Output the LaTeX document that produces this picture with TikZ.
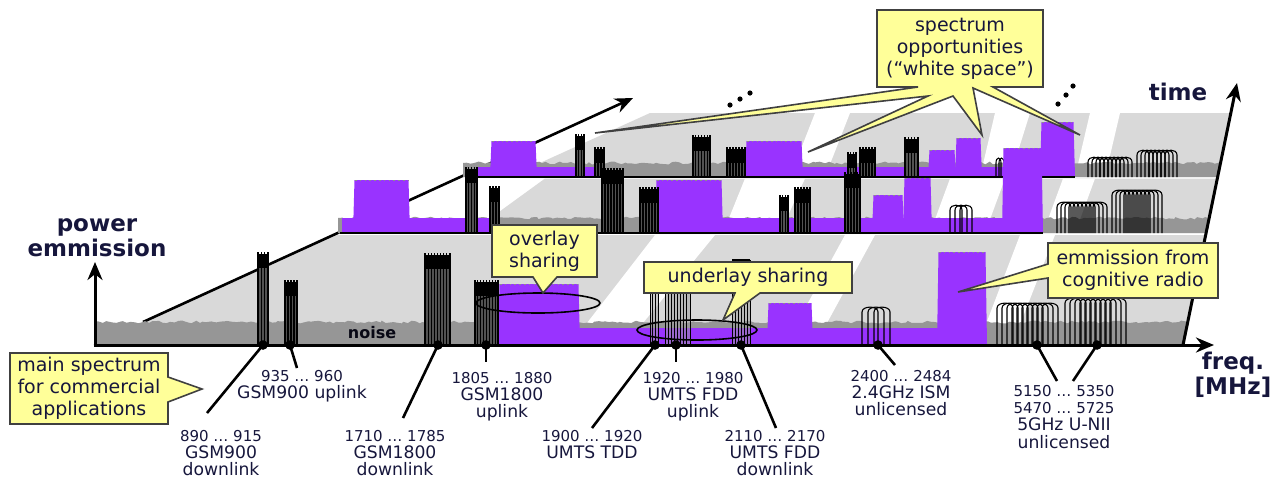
\documentclass[tikz,border=0pt]{standalone}
\usepackage{fontspec}
\setmainfont{DejaVu Sans}
\usetikzlibrary{decorations.pathmorphing,arrows.meta}
\definecolor{purp}{RGB}{153,51,255}
\definecolor{lgray}{RGB}{217,217,217}
\definecolor{ngray}{RGB}{150,150,150}
\definecolor{yel}{RGB}{255,255,153}
\definecolor{txt}{RGB}{22,22,60}

\newcommand{\nzband}[5]{\fill[ngray] (#1,#4) -- (#1,#4-#5) decorate[decoration={random steps,segment length=1.8pt,amplitude=0.7pt}]{-- (#3,#4-#5)} -- (#2,#4) -- cycle;}
\newcommand{\pfloor}[4]{\fill[purp] (#1,#3) rectangle (#2,#3-#4);}
\newcommand{\pblock}[4]{\fill[purp] (#1,#4) -- (#1+1.5,#3) -- (#2-1.5,#3) -- (#2,#4) -- cycle;
 \draw[black!45, line width=0.5pt, dash pattern=on 0.8pt off 1.6pt] (#1+2,#3+0.3) -- (#2-2,#3+0.3);}
\newcommand{\gsm}[4]{%
 \pgfmathtruncatemacro{\gn}{max(2,round((#2-#1)/3))}%
 \fill[black!68] (#1,#4) rectangle (#2,#3+8);
 \fill[black] (#1,#3+2) rectangle (#2,#3+16);
 \foreach \k in {0,...,\gn}{\fill[black] ({#1+\k*(#2-#1)/\gn-0.55},#3) rectangle ({#1+\k*(#2-#1)/\gn+0.55},#4);}}
\newcommand{\umts}[4]{%
 \pgfmathtruncatemacro{\gn}{max(2,round((#2-#1)/3))}%
 \fill[black!40, fill opacity=0.5] (#1,#4) rectangle (#2,#3);
 \foreach \k in {0,...,\gn}{\draw[line width=0.5pt] ({#1+\k*(#2-#1)/\gn},#4) -- ({#1+\k*(#2-#1)/\gn},#3);}
 \draw[line width=0.8pt] (#1,#3) -- (#2,#3);}
\newcommand{\wifi}[6]{\foreach \k in {1,...,#2}{%
 \pgfmathsetmacro{\xa}{#1+(\k-1)*#3}\pgfmathsetmacro{\xb}{\xa+#4}%
 \draw[line width=0.55pt] (\xa,#6) -- (\xa,#5+5) .. controls (\xa,#5-1.5) and (\xb,#5-1.5) .. (\xb,#5+5) -- (\xb,#6);}}

\begin{document}
\begin{tikzpicture}[x=0.5pt,y=-0.5pt,
  ax/.style={line width=1.5pt, -{Stealth[length=9pt,width=7.5pt]}},
  leader/.style={line width=1.3pt},
  lab/.style={text=txt, align=center, inner sep=0pt, anchor=north, font=\fontsize{8.6}{8.7}\selectfont},
  bl/.style={text=txt, align=center, inner sep=0pt, font=\bfseries\fontsize{11.5}{12.5}\selectfont},
  callout/.style={fill=yel, draw=black!75, line width=0.8pt, line join=miter},
  ctext/.style={text=txt, align=center, inner sep=0pt, font=\fontsize{9.5}{11}\selectfont}]
\newcommand{\nm}[1]{{\fontsize{7.5}{8.7}\selectfont #1}}
\useasboundingbox (0,0) rectangle (1281,479);
\pgfmathsetseed{7}

% background planes
\fill[lgray] (93,345) -- (333,235) -- (1205,235) -- (1183,345) -- cycle;
\fill[lgray] (470,233) -- (545,178.5) -- (1218,178.5) -- (1206,233) -- cycle;
\fill[lgray] (509,177) -- (650,113) -- (1231,113) -- (1218,177) -- cycle;
% white stripes
\fill[white] (570,345) -- (625,345) -- (715,235) -- (655,235) -- cycle;
\fill[white] (785,345) -- (815,345) -- (875,235) -- (845,235) -- cycle;
\fill[white] (978,345) -- (1012,345) -- (1055,235) -- (1020,235) -- cycle;
\fill[white] (723,233) -- (780,233) -- (805,178.5) -- (745,178.5) -- cycle;
\fill[white] (930,233) -- (985,233) -- (1005,178.5) -- (950,178.5) -- cycle;
\fill[white] (1043,233) -- (1075,233) -- (1095,178.5) -- (1063,178.5) -- cycle;
\fill[white] (790,177) -- (825,177) -- (850,113) -- (815,113) -- cycle;
\fill[white] (980,177) -- (1010,177) -- (1030,113) -- (995,113) -- cycle;
\fill[white] (1075,177) -- (1105,177) -- (1120,113) -- (1090,113) -- cycle;

% diagonal time line (left)
\coordinate (tl0) at (143,322);
\coordinate (tl1) at (633,98);
\draw[ax, line width=1.3pt] (tl0) -- (tl1);
\foreach \p in {(730,105),(740,99),(750,93),(1058,104),(1066,95),(1073,86)}{\fill \p circle[radius=1.3pt];}

% ---- layer 3 ----
\nzband{463}{1218}{1221}{177}{14}
\pfloor{478}{597}{177}{10}
\pfloor{745}{1075}{177}{10}
\pblock{490}{537}{141}{177}
\pblock{745}{803}{141}{177}
\pblock{928}{956}{150}{177}
\pblock{955}{982}{138}{177}
\pblock{1040}{1075}{122}{177}
\gsm{576}{584}{134}{177}
\gsm{595}{604}{147}{177}
\gsm{693}{710}{135}{177}
\gsm{727}{745}{147}{177}
\gsm{848}{856}{152}{177}
\gsm{860}{875}{147}{177}
\gsm{905}{918}{137}{177}
\wifi{996}{2}{3}{5}{158}{177}
\wifi{1088}{9}{4}{12}{157}{177}
\wifi{1137}{8}{4}{12}{150}{177}
\draw[line width=0.8pt] (478,177) -- (1075,177);

% ---- layer 2 ----
\nzband{338}{1206}{1209}{233}{15}
\pfloor{342}{493}{233}{15}
\pfloor{655}{1043}{233}{15}
\pblock{353}{410}{180}{233}
\pblock{655}{723}{180}{233}
\pblock{872}{904}{195}{233}
\pblock{903}{932}{178}{233}
\pblock{1002}{1043}{148}{233}
\gsm{466}{477}{167}{233}
\gsm{490}{499}{186}{233}
\gsm{602}{623}{168}{233}
\gsm{640}{658}{187}{233}
\gsm{780}{788}{195}{233}
\gsm{795}{810}{187}{233}
\gsm{845}{860}{172}{233}
\wifi{950}{3}{5}{12}{205}{233}
\wifi{1057}{10}{4}{14}{202}{233}
\wifi{1112}{10}{4}{14}{190}{233}
\draw[line width=0.8pt] (340,233) -- (1043,233);

% ---- layer 1 ----
\nzband{95}{1183}{1188}{345}{23}
\pfloor{498}{987}{345}{17}
\pblock{498}{580}{284}{345}
\pblock{767}{813}{303}{345}
\pblock{937}{987}{252}{345}
\gsm{258}{268}{252}{345}
\gsm{285}{297}{280}{345}
\gsm{425}{450}{253}{345}
\gsm{475}{498}{280}{345}
\umts{650}{658}{293}{345}
\umts{665}{690}{293}{345}
\umts{732}{750}{260}{345}
\wifi{862}{3}{6}{16}{307}{345}
\wifi{997}{10}{5}{16}{303}{345}
\wifi{1065}{10}{5}{16}{298}{345}
\node[font=\bfseries\fontsize{8}{9}\selectfont, text=black!65!txt, inner sep=0pt] (noise) at (372,333) {noise};

% sharing ellipses
\draw[line width=0.8pt] (538,303) ellipse [x radius=31pt, y radius=5pt];
\draw[line width=0.8pt] (697,330) ellipse [x radius=30pt, y radius=5pt];

% axes
\coordinate (o) at (95,345);
\coordinate (ptop) at (95,262);
\coordinate (fend) at (1214,345);
\coordinate (t0) at (1183,345);
\coordinate (t1) at (1237,83);
\draw[ax] ([yshift=-0.75pt]o) -- (ptop);
\draw[ax] ([xshift=-0.75pt]o) -- (fend);
\draw[ax] (t0) -- (t1);
\node[bl] (pw) at (97,237.5) {power\\emmission};
\node[bl] (tm) at (1178,92) {time};
\node[bl] (fq) at (1233,375) {freq.\\ {[MHz]}};

% band markers
\foreach \n/\x in {d1/263,d2/290,d3/438,d4/486,d5/655,d6/676,d7/741,d8/878,d9/1037,d10/1097}{\coordinate (\n) at (\x,345);}
\coordinate (e1) at (207,413); \coordinate (e2) at (297,368);
\coordinate (e3) at (403,418); \coordinate (e4) at (486,362);
\coordinate (e5) at (592,428); \coordinate (e6) at (676,362);
\coordinate (e7) at (776,428); \coordinate (e8) at (895,365);
\coordinate (e9) at (1057,381); \coordinate (e10) at (1073,381);
\foreach \i in {1,...,10}{\draw[leader] (d\i) -- (e\i); \fill (d\i) circle[radius=2.4pt];}

\node[lab] (l1) at (221,429.5) {\nm{890 … 915}\\GSM900\\downlink};
\node[lab] (l2) at (302,369.5) {\nm{935 … 960}\\GSM900 uplink};
\node[lab] (l3) at (395,429.5) {\nm{1710 … 1785}\\GSM1800\\downlink};
\node[lab] (l4) at (502,371.5) {\nm{1805 … 1880}\\GSM1800\\uplink};
\node[lab] (l5) at (592,429.5) {\nm{1900 … 1920}\\UMTS TDD};
\node[lab] (l6) at (693,371.5) {\nm{1920 … 1980}\\UMTS FDD\\uplink};
\node[lab] (l7) at (775,429.5) {\nm{2110 … 2170}\\UMTS FDD\\downlink};
\node[lab] (l8) at (901,369.5) {\nm{2400 … 2484}\\2.4GHz ISM\\unlicensed};
\node[lab] (l9) at (1064,384.5) {\nm{5150 … 5350}\\\nm{5470 … 5725}\\5GHz U-NII\\unlicensed};

% callouts
\draw[callout] (10,353) -- (168,353) -- (168,377) -- (202,389) -- (168,402) -- (168,424) -- (10,424) -- cycle;
\node[ctext] (c1) at (89,388) {main spectrum\\for commercial\\applications};
\draw[callout] (492,225) -- (597,225) -- (597,277) -- (557,277) -- (543,293) -- (533,277) -- (492,277) -- cycle;
\node[ctext] (c2) at (544.5,251) {overlay\\sharing};
\draw[callout] (644,262) -- (852,262) -- (852,293) -- (760,293) -- (723,320) -- (735,293) -- (644,293) -- cycle;
\node[ctext] (c3) at (748,277.5) {underlay sharing};
\draw[callout] (1048,243) -- (1218,243) -- (1218,298) -- (1048,298) -- (1048,278) -- (958,292) -- (1048,264) -- cycle;
\node[ctext] (c4) at (1133,270.5) {emmission from\\cognitive radio};
\draw[callout] (877,10) -- (1043,10) -- (1043,87) -- (993,87) -- (1080,135) -- (973,88) -- (982,135) -- (953,96) -- (808,152) -- (928,96) -- (595,133) -- (918,87) -- (877,87) -- cycle;
\node[ctext] (c5) at (960,48.5) {spectrum\\opportunities\\(“white space”)};
\end{tikzpicture}
\end{document}
